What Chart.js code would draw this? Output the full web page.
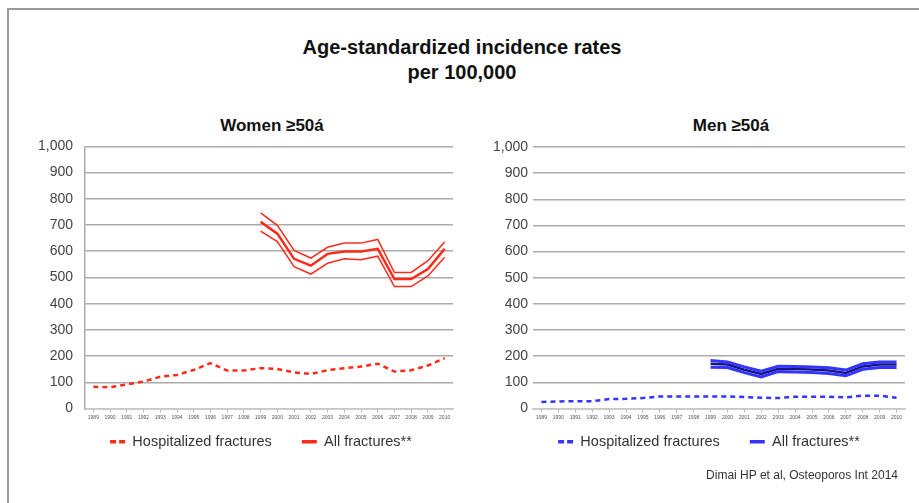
<!DOCTYPE html>
<html>
<head>
<meta charset="utf-8">
<script src="https://cdn.jsdelivr.net/npm/chart.js@4.4.1/dist/chart.umd.min.js"></script>
<style>
    body { margin: 0; background: #ffffff; font-family: "Liberation Sans", Arial, sans-serif; }
    #page { position: relative; width: 919px; height: 503px; overflow: hidden; background: #ffffff; }
    #frame { position: absolute; left: 7px; top: 8px; width: 920px; height: 500px; border-left: 2px solid #9a9a9a; border-top: 2px solid #9a9a9a; }
    .title { position: absolute; left: 162px; width: 600px; text-align: center; font-weight: bold; font-size: 20px; line-height: 25px; color: #111; }
    .sub { position: absolute; width: 200px; text-align: center; font-weight: bold; font-size: 17px; color: #111; }
    #source { position: absolute; right: 21px; top: 468px; font-size: 12px; color: #333; }
    canvas { position: absolute; }
</style>
</head>
<body>
<div id="page">
    <div id="frame"></div>
    <div class="title" style="top:35px;">Age-standardized incidence rates<br>per 100,000</div>
    <div class="sub" style="left:172px; top:116px;">Women ≥50á</div>
    <div class="sub" style="left:631px; top:116px;">Men ≥50á</div>
    <canvas id="womenChart" width="470" height="351" style="left:0px; top:126px;"></canvas>
    <canvas id="menChart" width="439" height="347" style="left:480px; top:130px;"></canvas>
    <div id="source">Dimai HP et al, Osteoporos Int 2014</div>
</div>

<script>
//////////////////////* Labels *////////////////////////////
let years = ["1989", "1990", "1991", "1992", "1993", "1994", "1995", "1996", "1997", "1998", "1999",
    "2000", "2001", "2002", "2003", "2004", "2005", "2006", "2007", "2008", "2009", "2010"];

let yTicks = [0, 100, 200, 300, 400, 500, 600, 700, 800, 900, 1000];

// Women >=50, hospitalized fractures (1989-2010) and all fractures with CI band (1999-2010)
let womenHosp = [83, 81, 92, 103, 121, 128, 147, 173, 145, 145, 154, 151, 138, 132, 146, 154, 160, 171, 141, 146, 164, 192];
let womenAll = [null, null, null, null, null, null, null, null, null, null, 712, 667, 571, 545, 590, 599, 599, 609, 494, 494, 532, 609];
let womenAllHigh = [null, null, null, null, null, null, null, null, null, null, 746, 699, 603, 574, 615, 631, 631, 645, 519, 519, 564, 635];
let womenAllLow = [null, null, null, null, null, null, null, null, null, null, 677, 637, 541, 513, 554, 571, 568, 581, 465, 465, 506, 577];

// Men >=50
let menHosp = [25, 27, 28, 28, 36, 37, 40, 46, 46, 46, 46, 46, 44, 41, 40, 45, 45, 45, 43, 49, 49, 41];
let menAll = [null, null, null, null, null, null, null, null, null, null, 171, 168, 148, 132, 152, 151, 149, 145, 136, 161, 168, 168];
let menAllHigh = [null, null, null, null, null, null, null, null, null, null, 184, 178, 159, 143, 162, 161, 159, 156, 147, 171, 178, 178];
let menAllLow = [null, null, null, null, null, null, null, null, null, null, 158, 157, 137, 121, 141, 140, 138, 134, 125, 150, 157, 157];

let primaryFont = "'Liberation Sans', Arial, sans-serif";
let gridColor = "#ababab";
let tickColor = "#444444";

// move the legend a bit (closer to the year labels, slightly left)
const legendNudge = {
    id: "legendNudge",
    afterLayout: function (chart, args, opts) {
        chart.legend.top -= opts.dy;
        chart.legend.bottom -= opts.dy;
        chart.legend.left += opts.dx;
        chart.legend.right += opts.dx;
    },
};

//////////////////////* Line Charts *////////////////////////////
function lineChart(id, sets, opts) {
    let ctx = document.getElementById(id);
    let config = {
        type: "line",
        data: {
            labels: years,
            datasets: sets,
        },
        plugins: [legendNudge],
        options: {
            responsive: false,
            animation: false,
            layout: {
                padding: { left: opts.padLeft, right: opts.padRight, top: opts.padTop, bottom: 3 },
            },
            elements: {
                point: { radius: 0 },
                line: { tension: 0 },
            },
            plugins: {
                tooltip: { enabled: false },
                legendNudge: { dy: 15, dx: opts.legendDx },
                legend: {
                    position: "bottom",
                    fullSize: false,
                    labels: {
                        usePointStyle: true,
                        pointStyle: "line",
                        pointStyleWidth: 15,
                        padding: 30,
                        color: "#333333",
                        font: { family: primaryFont, size: 14.5 },
                        generateLabels: function (chart) {
                            let items = Chart.defaults.plugins.legend.labels.generateLabels(chart);
                            return items
                                .filter(function (item) { return !chart.data.datasets[item.datasetIndex].band; })
                                .map(function (item) {
                                    let ds = chart.data.datasets[item.datasetIndex];
                                    item.lineDash = ds.borderDash ? [6, 3] : [];
                                    item.strokeStyle = ds.backgroundColor;
                                    item.lineWidth = 3.5;
                                    return item;
                                });
                        },
                    },
                },
            },
            scales: {
                x: {
                    offset: true,
                    afterFit: function (scale) { scale.height = 11; },
                    ticks: {
                        autoSkip: false,
                        maxRotation: 0,
                        minRotation: 0,
                        padding: 2,
                        color: "#555555",
                        font: { family: primaryFont, size: 5 },
                    },
                    grid: {
                        drawOnChartArea: false,
                        tickLength: 4,
                        color: "#bbbbbb",
                    },
                    border: { color: "#c8c8c8", width: 1.5 },
                },
                y: {
                    min: 0,
                    max: 1000,
                    afterFit: function (scale) { scale.width = opts.axisWidth; },
                    afterBuildTicks: function (scale) {
                        scale.ticks = yTicks.map(function (v) { return { value: v }; });
                    },
                    ticks: {
                        padding: opts.tickPad,
                        color: tickColor,
                        font: { family: primaryFont, size: 14 },
                        callback: function (value) {
                            return value.toLocaleString("en-US");
                        },
                    },
                    grid: {
                        color: gridColor,
                        lineWidth: 1.5,
                        drawTicks: false,
                    },
                    border: { display: opts.leftBorder, color: gridColor, width: 1.5 },
                },
            },
        },
    };
    return new Chart(ctx, config);
}

let red = "#ff2a1a";
let blue = "#3434ff";
let navy = "#16167a";

lineChart("womenChart", [
    { label: "Hospitalized fractures", data: womenHosp, borderColor: red, backgroundColor: red, borderWidth: 2.5, borderDash: [5, 4] },
    { label: "All fractures**", data: womenAll, borderColor: red, backgroundColor: red, borderWidth: 2.5 },
    { label: "All fractures upper CI", band: true, data: womenAllHigh, borderColor: red, borderWidth: 1.5 },
    { label: "All fractures lower CI", band: true, data: womenAllLow, borderColor: red, borderWidth: 1.5 },
], { padLeft: 33, padRight: 17, padTop: 13, axisWidth: 52, tickPad: 12, leftBorder: true, legendDx: -8 });

lineChart("menChart", [
    { label: "Hospitalized fractures", data: menHosp, borderColor: blue, backgroundColor: blue, borderWidth: 2.5, borderDash: [5, 4] },
    { label: "All fractures upper CI", band: true, data: menAllHigh, borderColor: blue, borderWidth: 3 },
    { label: "All fractures lower CI", band: true, data: menAllLow, borderColor: blue, borderWidth: 3 },
    { label: "All fractures**", data: menAll, borderColor: navy, backgroundColor: blue, borderWidth: 2.5 },
], { padLeft: 10, padRight: 14, padTop: 17, axisWidth: 43, tickPad: 5, leftBorder: false, legendDx: -10 });
</script>
</body>
</html>
